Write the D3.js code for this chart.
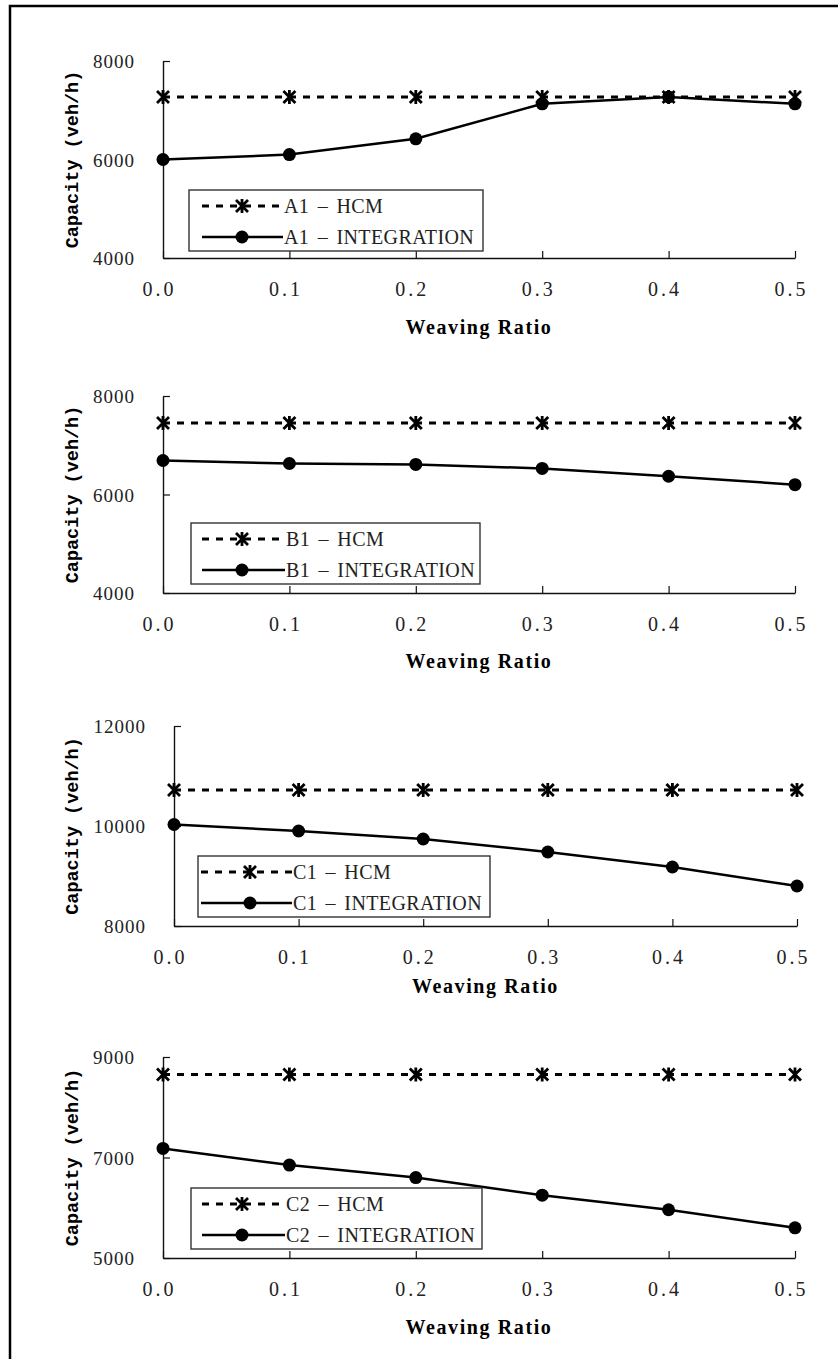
<!DOCTYPE html>
<html>
<head>
<meta charset="utf-8">
<script src="https://cdn.jsdelivr.net/npm/d3@7"></script>
<style>
body{margin:0;background:#fff;}
svg{display:block;}
</style>
</head>
<body>
<div id="chart"></div>
<script>
// weaving ratio on x, capacity (veh/h) on y
var ratios=[0.0,0.1,0.2,0.3,0.4,0.5];

var a1Hcm=[7270,7270,7270,7270,7270,7270];
var a1Int=[6000,6100,6420,7130,7270,7130];
var a1Ticks=[4000,6000,8000];
var a1Names=["A1 – HCM","A1 – INTEGRATION"];

var b1Hcm=[7450,7450,7450,7450,7450,7450];
var b1Int=[6690,6630,6610,6530,6370,6200];
var b1Ticks=[4000,6000,8000];
var b1Names=["B1 – HCM","B1 – INTEGRATION"];

var c1Hcm=[10720,10720,10720,10720,10720,10720];
var c1Int=[10030,9900,9740,9480,9180,8800];
var c1Ticks=[8000,10000,12000];
var c1Names=["C1 – HCM","C1 – INTEGRATION"];

var c2Hcm=[8650,8650,8650,8650,8650,8650];
var c2Int=[7180,6850,6600,6250,5960,5600];
var c2Ticks=[5000,7000,9000];
var c2Names=["C2 – HCM","C2 – INTEGRATION"];

var serif="'Liberation Serif','Times New Roman',serif";
var star="M-6,-6L6,6M-6,6L6,-6M0,-7L0,7";

var svg=d3.select("#chart")
	.append("svg")
	.attr("width",838)
	.attr("height",1359);

svg.append("rect")
	.attr("x",10)
	.attr("y",6)
	.attr("width",900)
	.attr("height",1400)
	.attr("fill","none")
	.attr("stroke","#000")
	.attr("stroke-width",2.5);

function panel(p,hcm,integ,ticks,names){

	var x=d3.scaleLinear().domain([0,0.5]).range([p.left,p.right]);
	var y=d3.scaleLinear().domain([ticks[0],ticks[ticks.length-1]]).range([p.bottom,p.top]);

	var g=svg.append("g");

	// axes, ticks pointing inside
	var ax=g.append("g")
		.attr("transform","translate(0,"+p.bottom+")")
		.call(d3.axisBottom(x).tickValues(ratios).tickSizeInner(-7).tickSizeOuter(0).tickFormat(d3.format(".1f")));
	ax.selectAll("text")
		.attr("y",31)
		.attr("dy","0.35em")
		.attr("x",-4)
		.attr("font-family",serif)
		.attr("font-size",20)
		.attr("letter-spacing",3)
		.attr("fill","#222");

	var ay=g.append("g")
		.attr("transform","translate("+p.left+",0)")
		.call(d3.axisLeft(y).tickValues(ticks).tickSizeInner(-7).tickSizeOuter(0).tickFormat(d3.format("d")));
	ay.selectAll("text")
		.attr("x",-28)
		.attr("dy","0.35em")
		.attr("font-family",serif)
		.attr("font-size",19)
		.attr("letter-spacing",1)
		.attr("fill","#222");

	g.selectAll(".domain").attr("stroke","#111").attr("stroke-width",1.4);
	g.selectAll(".tick line").attr("stroke","#111").attr("stroke-width",1.2);

	g.append("text")
		.attr("transform","translate(72,"+((p.top+p.bottom)/2)+") rotate(-90)")
		.attr("text-anchor","middle")
		.attr("dy","0.35em")
		.attr("font-family","'Liberation Mono',monospace")
		.attr("font-weight","bold")
		.attr("font-size",18.5)
		.text("Capacity (veh/h)");

	g.append("text")
		.attr("x",(p.left+p.right)/2)
		.attr("y",p.bottom+p.title)
		.attr("dy","0.35em")
		.attr("text-anchor","middle")
		.attr("font-family",serif)
		.attr("font-weight","bold")
		.attr("font-size",20)
		.attr("letter-spacing",1.6)
		.text("Weaving Ratio");

	var line=d3.line()
		.x(function(d,i){return x(ratios[i]);})
		.y(function(d){return y(d);});

	g.append("path")
		.attr("d",line(hcm))
		.attr("fill","none")
		.attr("stroke","#000")
		.attr("stroke-width",3)
		.attr("stroke-dasharray","7,7");

	g.append("path")
		.attr("d",line(integ))
		.attr("fill","none")
		.attr("stroke","#000")
		.attr("stroke-width",2.5);

	g.selectAll(".star")
		.data(hcm)
		.enter()
		.append("path")
		.attr("transform",function(d,i){return "translate("+x(ratios[i])+","+y(d)+")";})
		.attr("d",star)
		.attr("stroke","#000")
		.attr("stroke-width",2.8);

	g.selectAll(".dot")
		.data(integ)
		.enter()
		.append("circle")
		.attr("cx",function(d,i){return x(ratios[i]);})
		.attr("cy",function(d){return y(d);})
		.attr("r",6.5)
		.attr("fill","#000");

	// legend
	var L=p.legend;
	g.append("rect")
		.attr("x",L.x)
		.attr("y",L.y)
		.attr("width",L.w)
		.attr("height",61)
		.attr("fill","#fff")
		.attr("stroke","#333")
		.attr("stroke-width",1.4);

	var r1=L.y+16,r2=L.y+47;
	g.append("line")
		.attr("x1",L.x+L.s).attr("x2",L.x+94)
		.attr("y1",r1).attr("y2",r1)
		.attr("stroke","#000").attr("stroke-width",3)
		.attr("stroke-dasharray","7,7");
	g.append("path")
		.attr("transform","translate("+(L.x+L.m)+","+r1+")")
		.attr("d",star)
		.attr("stroke","#000")
		.attr("stroke-width",2.8);
	g.append("line")
		.attr("x1",L.x+L.s).attr("x2",L.x+94)
		.attr("y1",r2).attr("y2",r2)
		.attr("stroke","#000").attr("stroke-width",2.5);
	g.append("circle")
		.attr("cx",L.x+L.m)
		.attr("cy",r2)
		.attr("r",6.5)
		.attr("fill","#000");

	g.selectAll(".ltext")
		.data(names)
		.enter()
		.append("text")
		.attr("x",L.x+95)
		.attr("y",function(d,i){return i==0?r1:r2;})
		.attr("dy","0.35em")
		.attr("font-family",serif)
		.attr("font-size",20)
		.attr("letter-spacing",0.4)
		.attr("word-spacing",3)
		.attr("fill","#222")
		.text(function(d){return d;});
}

panel({left:163,right:795,top:61,bottom:258,title:69,legend:{x:189,y:190,w:294,s:13,m:53}},a1Hcm,a1Int,a1Ticks,a1Names);
panel({left:163,right:795,top:396,bottom:593,title:68,legend:{x:191,y:523,w:289,s:11,m:51}},b1Hcm,b1Int,b1Ticks,b1Names);
panel({left:174,right:797,top:726,bottom:926,title:60,legend:{x:198,y:856,w:292,s:3,m:52}},c1Hcm,c1Int,c1Ticks,c1Names);
panel({left:163,right:795,top:1057,bottom:1258,title:69,legend:{x:191,y:1188,w:291,s:11,m:51}},c2Hcm,c2Int,c2Ticks,c2Names);
</script>
</body>
</html>
